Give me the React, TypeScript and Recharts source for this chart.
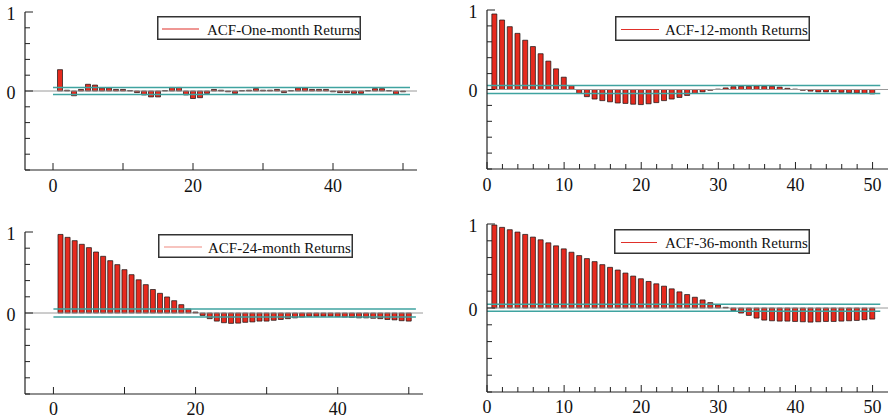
import React from 'react';
import { ComposedChart, Bar, XAxis, YAxis, ReferenceLine } from 'recharts';

const lags = [1, 2, 3, 4, 5, 6, 7, 8, 9, 10, 11, 12, 13, 14, 15, 16, 17, 18, 19, 20, 21, 22, 23, 24, 25, 26, 27, 28, 29, 30, 31, 32, 33, 34, 35, 36, 37, 38, 39, 40, 41, 42, 43, 44, 45, 46, 47, 48, 49, 50];

const acfOneMonth = [0.27, 0.01, -0.06, 0.02, 0.085, 0.075, 0.04, 0.04, 0.02, 0.02, 0.005, -0.02, -0.05, -0.075, -0.075, 0.005, 0.045, 0.045, -0.05, -0.095, -0.085, -0.03, 0.02, 0.01, -0.01, -0.03, 0.005, 0.01, 0.03, 0.01, 0.01, 0.02, -0.02, 0.005, 0.04, 0.04, 0.02, 0.02, 0.02, -0.01, -0.02, -0.02, -0.03, -0.03, 0.005, 0.03, 0.03, 0.005, -0.04, -0.01];

const acf12Month = [0.95, 0.874, 0.79, 0.706, 0.62, 0.54, 0.45, 0.357, 0.26, 0.155, 0.05, -0.05, -0.09, -0.12, -0.14, -0.155, -0.17, -0.175, -0.185, -0.19, -0.18, -0.165, -0.14, -0.12, -0.1, -0.075, -0.05, -0.03, -0.01, 0.005, 0.02, 0.035, 0.04, 0.04, 0.045, 0.04, 0.04, 0.03, 0.015, 0.005, -0.01, -0.02, -0.03, -0.03, -0.03, -0.035, -0.04, -0.045, -0.05, -0.055];

const acf24Month = [0.97, 0.934, 0.893, 0.848, 0.807, 0.753, 0.7, 0.646, 0.597, 0.535, 0.473, 0.41, 0.35, 0.29, 0.243, 0.198, 0.152, 0.103, 0.05, 0.012, -0.03, -0.07, -0.1, -0.12, -0.128, -0.125, -0.115, -0.11, -0.1, -0.1, -0.09, -0.08, -0.07, -0.06, -0.05, -0.04, -0.04, -0.04, -0.04, -0.045, -0.05, -0.055, -0.06, -0.06, -0.065, -0.07, -0.08, -0.085, -0.095, -0.1];

const acf36Month = [0.988, 0.96, 0.932, 0.904, 0.876, 0.844, 0.812, 0.776, 0.74, 0.704, 0.664, 0.624, 0.588, 0.552, 0.516, 0.484, 0.452, 0.416, 0.38, 0.348, 0.316, 0.288, 0.26, 0.228, 0.192, 0.16, 0.128, 0.096, 0.064, 0.036, 0.008, -0.03, -0.06, -0.088, -0.12, -0.144, -0.152, -0.156, -0.156, -0.16, -0.164, -0.168, -0.164, -0.16, -0.16, -0.156, -0.152, -0.148, -0.14, -0.132];

const seriesNames = ['ACF-One-month Returns', 'ACF-12-month Returns', 'ACF-24-month Returns', 'ACF-36-month Returns'];
const bandUpper = [0.045, 0.05, 0.05, 0.045];
const bandLower = [-0.045, -0.05, -0.05, -0.04];
const bandEnd = 51;

const yTicks = [-1, -0.8, -0.6, -0.4, -0.2, 0, 0.2, 0.4, 0.6, 0.8, 1];
const yLabels = [0, 1];
const xTicksLeft = [0, 10, 20, 30, 40, 50];
const xLabelsLeft = [0, 20, 40];
const xMajorLeft = [0, 10, 20, 30, 40, 50];
const xTicksRight = [0, 2, 4, 6, 8, 10, 12, 14, 16, 18, 20, 22, 24, 26, 28, 30, 32, 34, 36, 38, 40, 42, 44, 46, 48, 50];
const xLabelsRight = [0, 10, 20, 30, 40, 50];

const FONT = '"Liberation Serif", "Times New Roman", serif';
const BAR_FILL = '#e62a1e';
const BAND_COLOR = '#3fa3a0';

const has = (arr: number[], v: number) => arr.some((a) => Math.abs(a - v) < 1e-9);

const makeYTick = (labels: number[]) => (props: any) => {
  const { x, y, payload } = props;
  const v = payload.value;
  const labeled = has(labels, v);
  return (
    <g>
      <line x1={x} x2={x + (labeled ? 8 : 5)} y1={y} y2={y} stroke="#222" strokeWidth={1} />
      {labeled && (
        <text x={x - 9.5} y={y + 1.5} dy="0.36em" textAnchor="end" style={{ fontFamily: FONT }} fontFamily={FONT} fontSize={18} fill="#111">
          {v}
        </text>
      )}
    </g>
  );
};

const makeXTick = (labels: number[], majors: number[], gap: number) => (props: any) => {
  const { x, y, payload } = props;
  const v = payload.value;
  const labeled = has(labels, v);
  const major = has(majors, v);
  return (
    <g>
      <line x1={x} x2={x} y1={y} y2={y - (major ? 7 : 5)} stroke="#222" strokeWidth={1} />
      {labeled && (
        <text x={x} y={y + gap} textAnchor="middle" style={{ fontFamily: FONT }} fontFamily={FONT} fontSize={18} fill="#111">
          {v}
        </text>
      )}
    </g>
  );
};

type Panel = {
  values: number[];
  name: string;
  upper: number;
  lower: number;
  left: number;
  top: number;
  width: number;
  height: number;
  margin: { top: number; right: number; bottom: number; left: number };
  xDomain: [number, number];
  xTicks: number[];
  xLabels: number[];
  xMajors: number[];
  labelGap: number;
  legend: { left: number; top: number; width: number; height: number; lineX1: number; lineX2: number; textX: number; color: string };
};

const panels: Panel[] = [
  {
    values: acfOneMonth, name: seriesNames[0], upper: bandUpper[0], lower: bandLower[0],
    left: 0, top: 0, width: 444, height: 205,
    margin: { top: 12, right: 27, bottom: 34, left: 24 },
    xDomain: [-4, 52], xTicks: xTicksLeft, xLabels: xLabelsLeft, xMajors: xMajorLeft, labelGap: 21.5,
    legend: { left: 157, top: 16, width: 204, height: 24, lineX1: 5, lineX2: 42, textX: 50, color: '#e0302a' },
  },
  {
    values: acf12Month, name: seriesNames[1], upper: bandUpper[1], lower: bandLower[1],
    left: 443, top: 0, width: 445, height: 205,
    margin: { top: 10, right: 0, bottom: 35, left: 43 },
    xDomain: [0, 52], xTicks: xTicksRight, xLabels: xLabelsRight, xMajors: xLabelsRight, labelGap: 21.5,
    legend: { left: 615, top: 16, width: 195, height: 25, lineX1: 6, lineX2: 44, textX: 50, color: '#e0302a' },
  },
  {
    values: acf24Month, name: seriesNames[2], upper: bandUpper[2], lower: bandLower[2],
    left: 0, top: 205, width: 444, height: 213,
    margin: { top: 27, right: 21, bottom: 23, left: 24 },
    xDomain: [-4, 52], xTicks: xTicksLeft, xLabels: xLabelsLeft, xMajors: xMajorLeft, labelGap: 20.5,
    legend: { left: 158, top: 234, width: 195, height: 24, lineX1: 6, lineX2: 44, textX: 50, color: '#f08a80' },
  },
  {
    values: acf36Month, name: seriesNames[3], upper: bandUpper[3], lower: bandLower[3],
    left: 443, top: 205, width: 445, height: 213,
    margin: { top: 19, right: 0, bottom: 25, left: 43 },
    xDomain: [0, 52], xTicks: xTicksRight, xLabels: xLabelsRight, xMajors: xLabelsRight, labelGap: 20.5,
    legend: { left: 614, top: 229, width: 196, height: 25, lineX1: 7, lineX2: 43, textX: 51, color: '#e0302a' },
  },
];

const PanelChart = ({ p }: { p: Panel }) => {
  const data = lags.map((lag, i) => ({ lag, v: p.values[i] }));
  return (
    <div style={{ position: 'absolute', left: p.left, top: p.top, width: p.width, height: p.height }}>
      <ComposedChart width={p.width} height={p.height} data={data} margin={p.margin} style={{ overflow: 'visible' }}>
        <XAxis
          dataKey="lag"
          type="number"
          domain={p.xDomain}
          ticks={p.xTicks}
          interval={0}
          height={1}
          tickSize={0}
          tickMargin={0}
          allowDataOverflow
          axisLine={{ stroke: '#222', strokeWidth: 1.2 }}
          tickLine={false}
          tick={makeXTick(p.xLabels, p.xMajors, p.labelGap)}
        />
        <YAxis
          type="number"
          domain={[-1, 1]}
          ticks={yTicks}
          interval={0}
          width={1}
          tickSize={0}
          tickMargin={0}
          allowDataOverflow
          axisLine={{ stroke: '#222', strokeWidth: 1.2 }}
          tickLine={false}
          tick={makeYTick(yLabels)}
        />
        <ReferenceLine y={0} stroke="#9a9a9a" strokeWidth={1} />
        <Bar dataKey="v" barSize={5} fill={BAR_FILL} stroke="#111" strokeWidth={0.7} isAnimationActive={false} />
        <ReferenceLine segment={[{ x: 0, y: p.upper }, { x: bandEnd, y: p.upper }]} stroke={BAND_COLOR} strokeWidth={1.5} />
        <ReferenceLine segment={[{ x: 0, y: p.lower }, { x: bandEnd, y: p.lower }]} stroke={BAND_COLOR} strokeWidth={1.5} />
      </ComposedChart>
    </div>
  );
};

const LegendBox = ({ p }: { p: Panel }) => {
  const l = p.legend;
  const cy = l.height / 2 + 1;
  return (
    <svg style={{ position: 'absolute', left: l.left, top: l.top }} width={l.width} height={l.height}>
      <rect x={0.75} y={0.75} width={l.width - 1.5} height={l.height - 1.5} fill="#fff" stroke="#333" strokeWidth={1.5} />
      <line x1={l.lineX1} x2={l.lineX2} y1={cy} y2={cy} stroke={l.color} strokeWidth={1.2} />
      <text x={l.textX} y={cy + 5.5} style={{ fontFamily: FONT }} fontFamily={FONT} fontSize={15} fill="#111">
        {p.name}
      </text>
    </svg>
  );
};

export default function App() {
  return (
    <div style={{ position: 'absolute', left: 0, top: 0, width: 888, height: 418, background: '#fff', overflow: 'hidden' }}>
      {panels.map((p) => (
        <PanelChart key={p.name} p={p} />
      ))}
      {panels.map((p) => (
        <LegendBox key={'lg' + p.name} p={p} />
      ))}
    </div>
  );
}
